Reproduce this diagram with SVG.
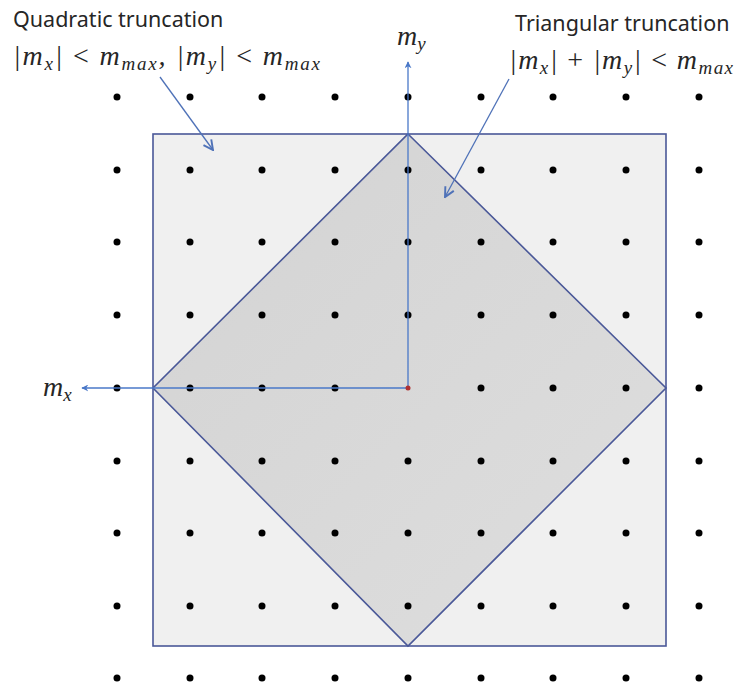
<svg xmlns="http://www.w3.org/2000/svg" width="739" height="689" viewBox="0 0 739 689">
<defs>
<style>
.lbl{font-family:"Noto Sans","Liberation Sans",sans-serif;font-size:21.5px;fill:#262626}
.math{font-family:"Liberation Serif","DejaVu Serif",serif;font-style:italic;font-size:28px;fill:#262626}
.sub{font-size:19px}
.op{font-style:normal}
.dot{fill:#000}
.axis{stroke:#4a78c8;stroke-width:1.3;fill:none}
.ptr{stroke:#4f72b8;stroke-width:1.3;fill:none}
</style>
<marker id="ah" viewBox="0 0 10 10" refX="9" refY="5" markerWidth="7" markerHeight="7" orient="auto-start-reverse" markerUnits="userSpaceOnUse">
<path d="M0,0 L10,5 L0,10 L3,5 z" fill="#4a78c8"/>
</marker>
<marker id="ah2" viewBox="0 0 10 10" refX="9" refY="5" markerWidth="12" markerHeight="12" orient="auto" markerUnits="userSpaceOnUse">
<path d="M1,1 L9,5 L1,9" fill="none" stroke="#4f72b8" stroke-width="1.6"/>
</marker>
<linearGradient id="dg" x1="0" y1="0" x2="1" y2="1">
<stop offset="0" stop-color="#d3d3d3"/>
<stop offset="1" stop-color="#dedede"/>
</linearGradient>
</defs>
<rect width="739" height="689" fill="#ffffff"/>
<g id="square">
<rect x="153" y="134" width="513" height="512" fill="#f0f0f0" stroke="#4a5898" stroke-width="1.6"/>
</g>
<g id="diamond">
<polygon points="408,134 666,388 408,646 153,388" fill="url(#dg)" stroke="#4a5898" stroke-width="1.6"/>
</g>
<g id="grid">
<g class="dot">
<circle cx="117" cy="97" r="3.5"/><circle cx="190" cy="97" r="3.5"/><circle cx="262" cy="97" r="3.5"/><circle cx="335" cy="97" r="3.5"/><circle cx="408" cy="97" r="3.5"/><circle cx="481" cy="97" r="3.5"/><circle cx="553" cy="97" r="3.5"/><circle cx="626" cy="97" r="3.5"/><circle cx="699" cy="97" r="3.5"/>
<circle cx="117" cy="170" r="3.5"/><circle cx="190" cy="170" r="3.5"/><circle cx="262" cy="170" r="3.5"/><circle cx="335" cy="170" r="3.5"/><circle cx="408" cy="170" r="3.5"/><circle cx="481" cy="170" r="3.5"/><circle cx="553" cy="170" r="3.5"/><circle cx="626" cy="170" r="3.5"/><circle cx="699" cy="170" r="3.5"/>
<circle cx="117" cy="242" r="3.5"/><circle cx="190" cy="242" r="3.5"/><circle cx="262" cy="242" r="3.5"/><circle cx="335" cy="242" r="3.5"/><circle cx="408" cy="242" r="3.5"/><circle cx="481" cy="242" r="3.5"/><circle cx="553" cy="242" r="3.5"/><circle cx="626" cy="242" r="3.5"/><circle cx="699" cy="242" r="3.5"/>
<circle cx="117" cy="315" r="3.5"/><circle cx="190" cy="315" r="3.5"/><circle cx="262" cy="315" r="3.5"/><circle cx="335" cy="315" r="3.5"/><circle cx="408" cy="315" r="3.5"/><circle cx="481" cy="315" r="3.5"/><circle cx="553" cy="315" r="3.5"/><circle cx="626" cy="315" r="3.5"/><circle cx="699" cy="315" r="3.5"/>
<circle cx="117" cy="388" r="3.5"/><circle cx="190" cy="388" r="3.5"/><circle cx="262" cy="388" r="3.5"/><circle cx="335" cy="388" r="3.5"/><circle cx="481" cy="388" r="3.5"/><circle cx="553" cy="388" r="3.5"/><circle cx="626" cy="388" r="3.5"/><circle cx="699" cy="388" r="3.5"/>
<circle cx="117" cy="461" r="3.5"/><circle cx="190" cy="461" r="3.5"/><circle cx="262" cy="461" r="3.5"/><circle cx="335" cy="461" r="3.5"/><circle cx="408" cy="461" r="3.5"/><circle cx="481" cy="461" r="3.5"/><circle cx="553" cy="461" r="3.5"/><circle cx="626" cy="461" r="3.5"/><circle cx="699" cy="461" r="3.5"/>
<circle cx="117" cy="533" r="3.5"/><circle cx="190" cy="533" r="3.5"/><circle cx="262" cy="533" r="3.5"/><circle cx="335" cy="533" r="3.5"/><circle cx="408" cy="533" r="3.5"/><circle cx="481" cy="533" r="3.5"/><circle cx="553" cy="533" r="3.5"/><circle cx="626" cy="533" r="3.5"/><circle cx="699" cy="533" r="3.5"/>
<circle cx="117" cy="606" r="3.5"/><circle cx="190" cy="606" r="3.5"/><circle cx="262" cy="606" r="3.5"/><circle cx="335" cy="606" r="3.5"/><circle cx="408" cy="606" r="3.5"/><circle cx="481" cy="606" r="3.5"/><circle cx="553" cy="606" r="3.5"/><circle cx="626" cy="606" r="3.5"/><circle cx="699" cy="606" r="3.5"/>
<circle cx="117" cy="678" r="3.5"/><circle cx="190" cy="678" r="3.5"/><circle cx="262" cy="678" r="3.5"/><circle cx="335" cy="678" r="3.5"/><circle cx="408" cy="678" r="3.5"/><circle cx="481" cy="678" r="3.5"/><circle cx="553" cy="678" r="3.5"/><circle cx="626" cy="678" r="3.5"/><circle cx="699" cy="678" r="3.5"/>
</g>
</g>
<g id="connectors">
<line class="axis" x1="408" y1="388" x2="408" y2="62" marker-end="url(#ah)"/>
<line class="axis" x1="408" y1="388" x2="82" y2="388" marker-end="url(#ah)"/>
<circle cx="408" cy="388" r="2.5" fill="#b03030"/>
<line class="ptr" x1="160" y1="77" x2="213" y2="150" marker-end="url(#ah2)"/>
<line class="ptr" x1="509" y1="79" x2="445" y2="197" marker-end="url(#ah2)"/>
</g>
<g id="label-quadratic">
<text class="lbl" x="13" y="27">Quadratic truncation</text>
<text class="math" x="13" y="65" textLength="307" lengthAdjust="spacing">|m<tspan class="sub" dy="5">x</tspan><tspan dy="-5">| </tspan><tspan class="op">&lt;</tspan> m<tspan class="sub" dy="5">max</tspan><tspan dy="-5">, |m</tspan><tspan class="sub" dy="5">y</tspan><tspan dy="-5">| </tspan><tspan class="op">&lt;</tspan> m<tspan class="sub" dy="5">max</tspan></text>
</g>
<g id="label-triangular">
<text class="lbl" x="515" y="31">Triangular truncation</text>
<text class="math" x="509" y="69" textLength="224" lengthAdjust="spacing">|m<tspan class="sub" dy="5">x</tspan><tspan dy="-5">| </tspan><tspan class="op">+</tspan> |m<tspan class="sub" dy="5">y</tspan><tspan dy="-5">| </tspan><tspan class="op">&lt;</tspan> m<tspan class="sub" dy="5">max</tspan></text>
</g>
<g id="label-my">
<text class="math" x="397" y="45">m<tspan class="sub" dy="5">y</tspan></text>
</g>
<g id="label-mx">
<text class="math" x="43" y="396">m<tspan class="sub" dy="5">x</tspan></text>
</g>
</svg>
